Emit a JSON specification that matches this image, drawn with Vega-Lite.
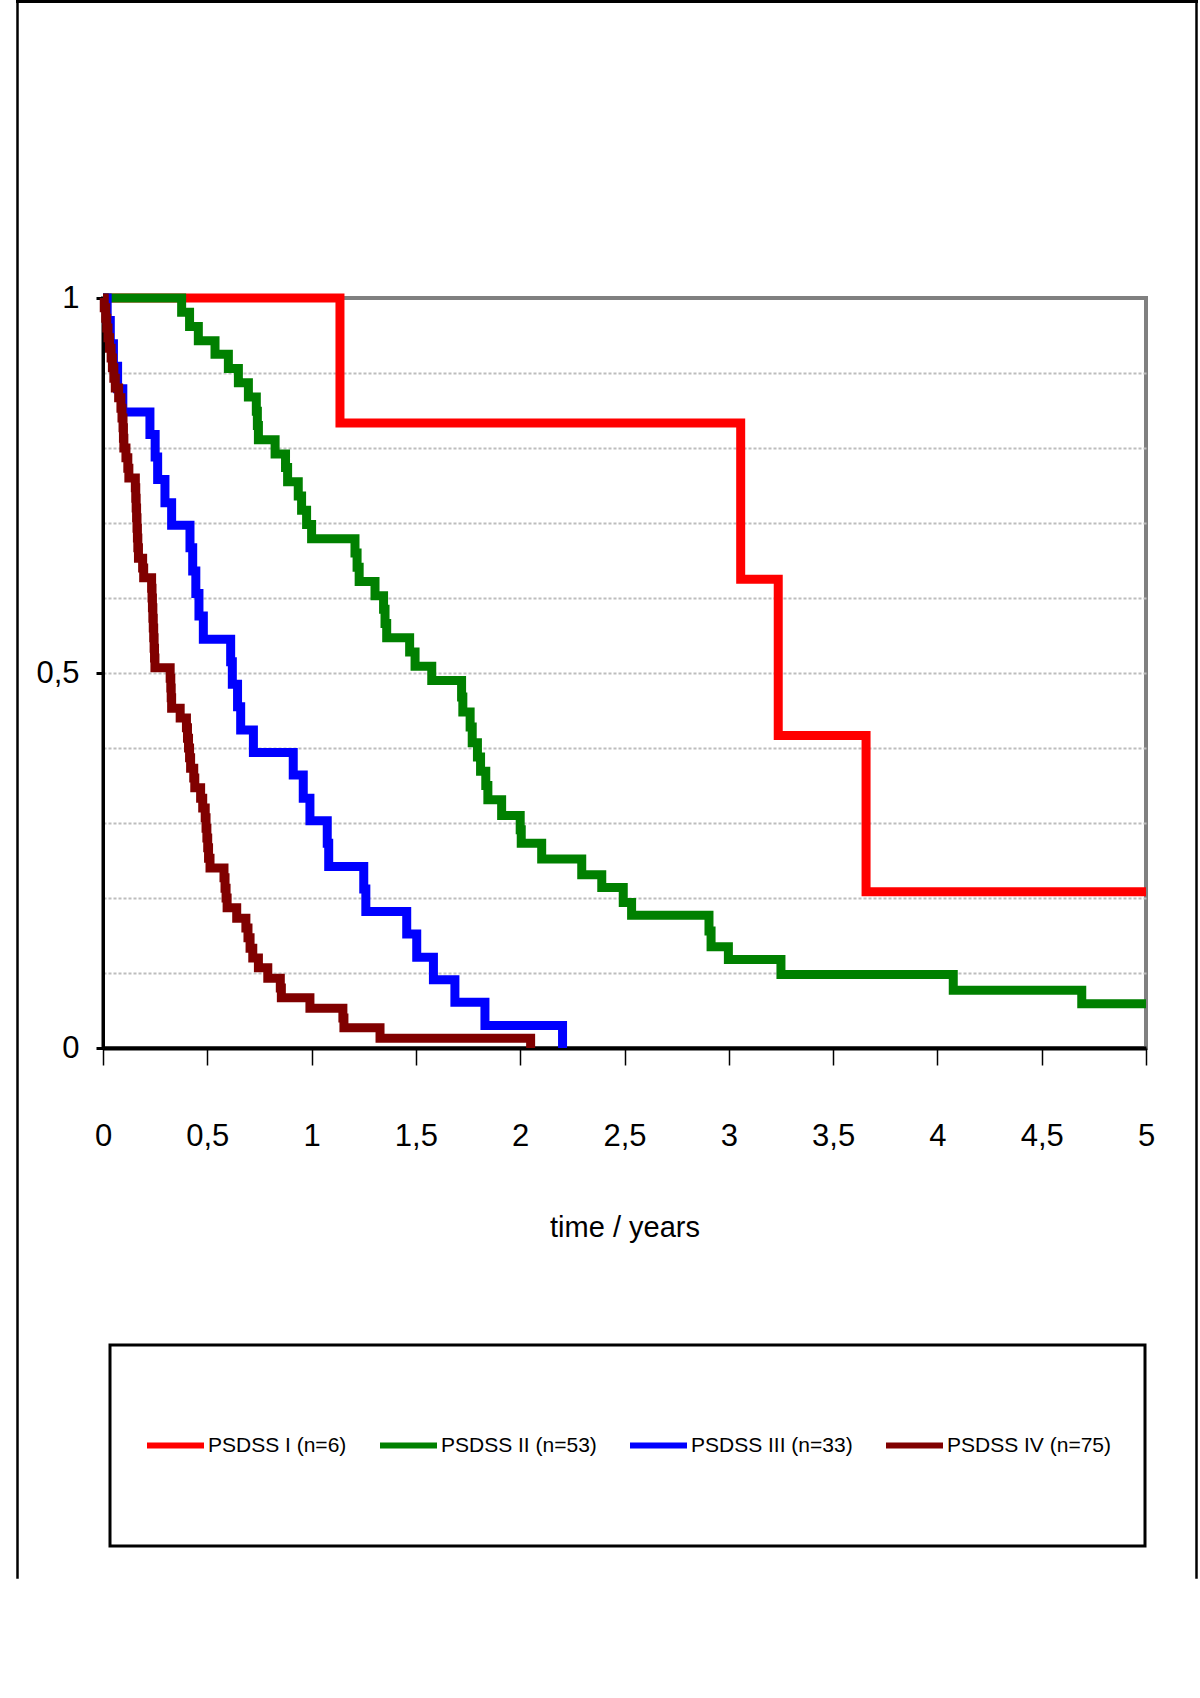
{
  "$schema": "https://vega.github.io/schema/vega-lite/v6.json",
  "autosize": {"type": "pad"},
  "padding": {"left": 16, "top": 0, "right": 2, "bottom": 120},
  "background": "white",
  "config": {
    "view": {"stroke": "#808080", "strokeWidth": 4, "fill": "white"},
    "font": "Liberation Sans",
    "legend": {"strokeWidth": 3}
  },
  "bounds": "flush",
  "spacing": 0,
  "vconcat": [
    {
      "width": 1180,
      "height": 1,
      "data": {"values": []},
      "mark": "point",
      "view": {"stroke": "black", "strokeWidth": 2, "fill": null}
    },
    {
      "bounds": "flush",
      "spacing": 0,
      "hconcat": [
        {
          "width": 1,
          "height": 1576,
          "data": {"values": []},
          "mark": "point",
          "view": {"stroke": "black", "strokeWidth": 1.5, "fill": null}
        },
        {
          "width": 85,
          "height": 1,
          "data": {"values": []},
          "mark": "point",
          "view": {"stroke": null, "fill": null}
        },
        {
          "bounds": "flush",
          "spacing": 295,
          "vconcat": [
            {
              "width": 1043,
              "height": 1,
              "data": {"values": []},
              "mark": "point",
              "view": {"stroke": null, "fill": null}
            },
            {
              "width": 1043,
              "height": 750,
              "data": {
                "values": [
                  {"group": "PSDSS I (n=6)", "t": 0, "s": 1},
                  {"group": "PSDSS I (n=6)", "t": 1.136, "s": 0.8333},
                  {"group": "PSDSS I (n=6)", "t": 3.057, "s": 0.625},
                  {"group": "PSDSS I (n=6)", "t": 3.237, "s": 0.4167},
                  {"group": "PSDSS I (n=6)", "t": 3.658, "s": 0.2083},
                  {"group": "PSDSS I (n=6)", "t": 5, "s": 0.2083},
                  {"group": "PSDSS II (n=53)", "t": 0, "s": 1},
                  {"group": "PSDSS II (n=53)", "t": 0.377, "s": 0.981},
                  {"group": "PSDSS II (n=53)", "t": 0.415, "s": 0.962},
                  {"group": "PSDSS II (n=53)", "t": 0.457, "s": 0.943},
                  {"group": "PSDSS II (n=53)", "t": 0.537, "s": 0.925},
                  {"group": "PSDSS II (n=53)", "t": 0.601, "s": 0.906},
                  {"group": "PSDSS II (n=53)", "t": 0.649, "s": 0.887},
                  {"group": "PSDSS II (n=53)", "t": 0.697, "s": 0.868},
                  {"group": "PSDSS II (n=53)", "t": 0.735, "s": 0.849},
                  {"group": "PSDSS II (n=53)", "t": 0.74, "s": 0.83},
                  {"group": "PSDSS II (n=53)", "t": 0.745, "s": 0.811},
                  {"group": "PSDSS II (n=53)", "t": 0.825, "s": 0.792},
                  {"group": "PSDSS II (n=53)", "t": 0.875, "s": 0.774},
                  {"group": "PSDSS II (n=53)", "t": 0.885, "s": 0.755},
                  {"group": "PSDSS II (n=53)", "t": 0.936, "s": 0.736},
                  {"group": "PSDSS II (n=53)", "t": 0.952, "s": 0.717},
                  {"group": "PSDSS II (n=53)", "t": 0.976, "s": 0.698},
                  {"group": "PSDSS II (n=53)", "t": 1.0, "s": 0.679},
                  {"group": "PSDSS II (n=53)", "t": 1.208, "s": 0.66},
                  {"group": "PSDSS II (n=53)", "t": 1.218, "s": 0.641},
                  {"group": "PSDSS II (n=53)", "t": 1.228, "s": 0.622},
                  {"group": "PSDSS II (n=53)", "t": 1.304, "s": 0.603},
                  {"group": "PSDSS II (n=53)", "t": 1.345, "s": 0.585},
                  {"group": "PSDSS II (n=53)", "t": 1.352, "s": 0.566},
                  {"group": "PSDSS II (n=53)", "t": 1.36, "s": 0.547},
                  {"group": "PSDSS II (n=53)", "t": 1.47, "s": 0.528},
                  {"group": "PSDSS II (n=53)", "t": 1.496, "s": 0.509},
                  {"group": "PSDSS II (n=53)", "t": 1.576, "s": 0.49},
                  {"group": "PSDSS II (n=53)", "t": 1.719, "s": 0.468},
                  {"group": "PSDSS II (n=53)", "t": 1.725, "s": 0.448},
                  {"group": "PSDSS II (n=53)", "t": 1.76, "s": 0.428},
                  {"group": "PSDSS II (n=53)", "t": 1.77, "s": 0.407},
                  {"group": "PSDSS II (n=53)", "t": 1.795, "s": 0.388},
                  {"group": "PSDSS II (n=53)", "t": 1.81, "s": 0.369},
                  {"group": "PSDSS II (n=53)", "t": 1.835, "s": 0.35},
                  {"group": "PSDSS II (n=53)", "t": 1.845, "s": 0.331},
                  {"group": "PSDSS II (n=53)", "t": 1.911, "s": 0.31},
                  {"group": "PSDSS II (n=53)", "t": 2.0, "s": 0.291},
                  {"group": "PSDSS II (n=53)", "t": 2.005, "s": 0.273},
                  {"group": "PSDSS II (n=53)", "t": 2.103, "s": 0.252},
                  {"group": "PSDSS II (n=53)", "t": 2.295, "s": 0.231},
                  {"group": "PSDSS II (n=53)", "t": 2.391, "s": 0.214},
                  {"group": "PSDSS II (n=53)", "t": 2.494, "s": 0.194},
                  {"group": "PSDSS II (n=53)", "t": 2.534, "s": 0.177},
                  {"group": "PSDSS II (n=53)", "t": 2.905, "s": 0.156},
                  {"group": "PSDSS II (n=53)", "t": 2.915, "s": 0.135},
                  {"group": "PSDSS II (n=53)", "t": 2.998, "s": 0.118},
                  {"group": "PSDSS II (n=53)", "t": 3.25, "s": 0.098},
                  {"group": "PSDSS II (n=53)", "t": 4.076, "s": 0.077},
                  {"group": "PSDSS II (n=53)", "t": 4.692, "s": 0.059},
                  {"group": "PSDSS II (n=53)", "t": 5, "s": 0.059},
                  {"group": "PSDSS III (n=33)", "t": 0, "s": 1},
                  {"group": "PSDSS III (n=33)", "t": 0.02, "s": 0.97},
                  {"group": "PSDSS III (n=33)", "t": 0.035, "s": 0.939},
                  {"group": "PSDSS III (n=33)", "t": 0.05, "s": 0.909},
                  {"group": "PSDSS III (n=33)", "t": 0.07, "s": 0.879},
                  {"group": "PSDSS III (n=33)", "t": 0.095, "s": 0.848},
                  {"group": "PSDSS III (n=33)", "t": 0.225, "s": 0.818},
                  {"group": "PSDSS III (n=33)", "t": 0.25, "s": 0.788},
                  {"group": "PSDSS III (n=33)", "t": 0.262, "s": 0.758},
                  {"group": "PSDSS III (n=33)", "t": 0.297, "s": 0.727},
                  {"group": "PSDSS III (n=33)", "t": 0.329, "s": 0.697},
                  {"group": "PSDSS III (n=33)", "t": 0.417, "s": 0.667},
                  {"group": "PSDSS III (n=33)", "t": 0.43, "s": 0.636},
                  {"group": "PSDSS III (n=33)", "t": 0.445, "s": 0.606},
                  {"group": "PSDSS III (n=33)", "t": 0.46, "s": 0.576},
                  {"group": "PSDSS III (n=33)", "t": 0.481, "s": 0.545},
                  {"group": "PSDSS III (n=33)", "t": 0.612, "s": 0.515},
                  {"group": "PSDSS III (n=33)", "t": 0.62, "s": 0.485},
                  {"group": "PSDSS III (n=33)", "t": 0.645, "s": 0.455},
                  {"group": "PSDSS III (n=33)", "t": 0.66, "s": 0.424},
                  {"group": "PSDSS III (n=33)", "t": 0.721, "s": 0.394},
                  {"group": "PSDSS III (n=33)", "t": 0.912, "s": 0.364},
                  {"group": "PSDSS III (n=33)", "t": 0.96, "s": 0.333},
                  {"group": "PSDSS III (n=33)", "t": 0.992, "s": 0.303},
                  {"group": "PSDSS III (n=33)", "t": 1.075, "s": 0.273},
                  {"group": "PSDSS III (n=33)", "t": 1.082, "s": 0.242},
                  {"group": "PSDSS III (n=33)", "t": 1.25, "s": 0.212},
                  {"group": "PSDSS III (n=33)", "t": 1.26, "s": 0.182},
                  {"group": "PSDSS III (n=33)", "t": 1.456, "s": 0.152},
                  {"group": "PSDSS III (n=33)", "t": 1.504, "s": 0.121},
                  {"group": "PSDSS III (n=33)", "t": 1.584, "s": 0.091},
                  {"group": "PSDSS III (n=33)", "t": 1.687, "s": 0.061},
                  {"group": "PSDSS III (n=33)", "t": 1.831, "s": 0.03},
                  {"group": "PSDSS III (n=33)", "t": 2.203, "s": 0},
                  {"group": "PSDSS IV (n=75)", "t": 0, "s": 1},
                  {"group": "PSDSS IV (n=75)", "t": 0.006, "s": 0.987},
                  {"group": "PSDSS IV (n=75)", "t": 0.013, "s": 0.973},
                  {"group": "PSDSS IV (n=75)", "t": 0.018, "s": 0.96},
                  {"group": "PSDSS IV (n=75)", "t": 0.024, "s": 0.947},
                  {"group": "PSDSS IV (n=75)", "t": 0.031, "s": 0.933},
                  {"group": "PSDSS IV (n=75)", "t": 0.039, "s": 0.92},
                  {"group": "PSDSS IV (n=75)", "t": 0.045, "s": 0.907},
                  {"group": "PSDSS IV (n=75)", "t": 0.052, "s": 0.893},
                  {"group": "PSDSS IV (n=75)", "t": 0.059, "s": 0.88},
                  {"group": "PSDSS IV (n=75)", "t": 0.075, "s": 0.867},
                  {"group": "PSDSS IV (n=75)", "t": 0.086, "s": 0.853},
                  {"group": "PSDSS IV (n=75)", "t": 0.091, "s": 0.84},
                  {"group": "PSDSS IV (n=75)", "t": 0.096, "s": 0.827},
                  {"group": "PSDSS IV (n=75)", "t": 0.098, "s": 0.813},
                  {"group": "PSDSS IV (n=75)", "t": 0.1, "s": 0.8},
                  {"group": "PSDSS IV (n=75)", "t": 0.11, "s": 0.787},
                  {"group": "PSDSS IV (n=75)", "t": 0.119, "s": 0.773},
                  {"group": "PSDSS IV (n=75)", "t": 0.124, "s": 0.76},
                  {"group": "PSDSS IV (n=75)", "t": 0.155, "s": 0.747},
                  {"group": "PSDSS IV (n=75)", "t": 0.157, "s": 0.733},
                  {"group": "PSDSS IV (n=75)", "t": 0.159, "s": 0.72},
                  {"group": "PSDSS IV (n=75)", "t": 0.161, "s": 0.707},
                  {"group": "PSDSS IV (n=75)", "t": 0.163, "s": 0.693},
                  {"group": "PSDSS IV (n=75)", "t": 0.165, "s": 0.68},
                  {"group": "PSDSS IV (n=75)", "t": 0.167, "s": 0.667},
                  {"group": "PSDSS IV (n=75)", "t": 0.17, "s": 0.653},
                  {"group": "PSDSS IV (n=75)", "t": 0.19, "s": 0.64},
                  {"group": "PSDSS IV (n=75)", "t": 0.195, "s": 0.627},
                  {"group": "PSDSS IV (n=75)", "t": 0.233, "s": 0.613},
                  {"group": "PSDSS IV (n=75)", "t": 0.235, "s": 0.6},
                  {"group": "PSDSS IV (n=75)", "t": 0.237, "s": 0.587},
                  {"group": "PSDSS IV (n=75)", "t": 0.239, "s": 0.573},
                  {"group": "PSDSS IV (n=75)", "t": 0.241, "s": 0.56},
                  {"group": "PSDSS IV (n=75)", "t": 0.243, "s": 0.547},
                  {"group": "PSDSS IV (n=75)", "t": 0.245, "s": 0.533},
                  {"group": "PSDSS IV (n=75)", "t": 0.247, "s": 0.52},
                  {"group": "PSDSS IV (n=75)", "t": 0.249, "s": 0.507},
                  {"group": "PSDSS IV (n=75)", "t": 0.322, "s": 0.493},
                  {"group": "PSDSS IV (n=75)", "t": 0.325, "s": 0.48},
                  {"group": "PSDSS IV (n=75)", "t": 0.327, "s": 0.467},
                  {"group": "PSDSS IV (n=75)", "t": 0.329, "s": 0.453},
                  {"group": "PSDSS IV (n=75)", "t": 0.37, "s": 0.44},
                  {"group": "PSDSS IV (n=75)", "t": 0.4, "s": 0.427},
                  {"group": "PSDSS IV (n=75)", "t": 0.405, "s": 0.413},
                  {"group": "PSDSS IV (n=75)", "t": 0.41, "s": 0.4},
                  {"group": "PSDSS IV (n=75)", "t": 0.415, "s": 0.387},
                  {"group": "PSDSS IV (n=75)", "t": 0.42, "s": 0.373},
                  {"group": "PSDSS IV (n=75)", "t": 0.435, "s": 0.36},
                  {"group": "PSDSS IV (n=75)", "t": 0.44, "s": 0.347},
                  {"group": "PSDSS IV (n=75)", "t": 0.468, "s": 0.333},
                  {"group": "PSDSS IV (n=75)", "t": 0.478, "s": 0.32},
                  {"group": "PSDSS IV (n=75)", "t": 0.49, "s": 0.307},
                  {"group": "PSDSS IV (n=75)", "t": 0.494, "s": 0.293},
                  {"group": "PSDSS IV (n=75)", "t": 0.498, "s": 0.28},
                  {"group": "PSDSS IV (n=75)", "t": 0.502, "s": 0.267},
                  {"group": "PSDSS IV (n=75)", "t": 0.506, "s": 0.253},
                  {"group": "PSDSS IV (n=75)", "t": 0.513, "s": 0.24},
                  {"group": "PSDSS IV (n=75)", "t": 0.58, "s": 0.227},
                  {"group": "PSDSS IV (n=75)", "t": 0.585, "s": 0.213},
                  {"group": "PSDSS IV (n=75)", "t": 0.59, "s": 0.2},
                  {"group": "PSDSS IV (n=75)", "t": 0.595, "s": 0.187},
                  {"group": "PSDSS IV (n=75)", "t": 0.641, "s": 0.173},
                  {"group": "PSDSS IV (n=75)", "t": 0.685, "s": 0.16},
                  {"group": "PSDSS IV (n=75)", "t": 0.695, "s": 0.147},
                  {"group": "PSDSS IV (n=75)", "t": 0.705, "s": 0.133},
                  {"group": "PSDSS IV (n=75)", "t": 0.718, "s": 0.12},
                  {"group": "PSDSS IV (n=75)", "t": 0.745, "s": 0.107},
                  {"group": "PSDSS IV (n=75)", "t": 0.79, "s": 0.093},
                  {"group": "PSDSS IV (n=75)", "t": 0.85, "s": 0.08},
                  {"group": "PSDSS IV (n=75)", "t": 0.855, "s": 0.067},
                  {"group": "PSDSS IV (n=75)", "t": 0.992, "s": 0.053},
                  {"group": "PSDSS IV (n=75)", "t": 1.15, "s": 0.04},
                  {"group": "PSDSS IV (n=75)", "t": 1.155, "s": 0.027},
                  {"group": "PSDSS IV (n=75)", "t": 1.328, "s": 0.013},
                  {"group": "PSDSS IV (n=75)", "t": 2.05, "s": 0}
                ]
              },
              "mark": {"type": "line", "interpolate": "step-after", "strokeWidth": 9},
              "encoding": {
                "x": {
                  "field": "t",
                  "type": "quantitative",
                  "scale": {"domain": [0, 5], "nice": false, "zero": false},
                  "axis": {
                    "values": [0, 0.5, 1, 1.5, 2, 2.5, 3, 3.5, 4, 4.5, 5],
                    "labelExpr": "replace(format(datum.value, '~g'), '.', ',')",
                    "grid": false,
                    "domainColor": "black",
                    "domainWidth": 4,
                    "tickColor": "black",
                    "tickWidth": 1.5,
                    "tickSize": 17,
                    "labelFontSize": 31,
                    "labelColor": "black",
                    "labelPadding": 56,
                    "labelFlush": false,
                    "labelOverlap": false,
                    "title": "time / years",
                    "titleFontSize": 29,
                    "titleFontWeight": "normal",
                    "titleColor": "black",
                    "titlePadding": 62
                  }
                },
                "y": {
                  "field": "s",
                  "type": "quantitative",
                  "scale": {"domain": [0, 1], "nice": false},
                  "axis": {
                    "values": [0, 0.1, 0.2, 0.3, 0.4, 0.5, 0.6, 0.7, 0.8, 0.9, 1],
                    "labelExpr": "datum.value == 0 ? '0' : (datum.value == 0.5 ? '0,5' : (datum.value == 1 ? '1' : ''))",
                    "grid": true,
                    "gridColor": "#bdbdbd",
                    "gridDash": [3, 2],
                    "gridWidth": 2,
                    "gridOpacity": {"condition": {"test": "datum.value < 0.05 || datum.value > 0.95", "value": 0}, "value": 1},
                    "tickOpacity": {"condition": {"test": "datum.value == 0 || datum.value == 0.5 || datum.value == 1", "value": 1}, "value": 0},
                    "tickColor": "black",
                    "tickWidth": 3,
                    "tickSize": 7,
                    "domainColor": "black",
                    "domainWidth": 3,
                    "labelFontSize": 31,
                    "labelColor": "black",
                    "labelPadding": 17,
                    "labelFlush": false,
                    "labelOverlap": false,
                    "title": null
                  }
                },
                "color": {
                  "field": "group",
                  "type": "nominal",
                  "scale": {
                    "domain": ["PSDSS I (n=6)", "PSDSS II (n=53)", "PSDSS III (n=33)", "PSDSS IV (n=75)"],
                    "range": ["#ff0000", "#008000", "#0000ff", "#800000"]
                  },
                  "legend": {
                    "orient": "none",
                    "legendX": 93,
                    "legendY": 1344,
                    "direction": "horizontal",
                    "columns": 4,
                    "title": null,
                    "symbolType": "stroke",
                    "symbolSize": 3249,
                    "symbolStrokeWidth": 6,
                    "labelFontSize": 21,
                    "labelColor": "black",
                    "labelOffset": 1,
                    "labelLimit": 400,
                    "columnPadding": 30,
                    "padding": 34,
                    "clipHeight": 133,
                    "strokeColor": "black",
                    "fillColor": "white"
                  }
                }
              }
            }
          ]
        },
        {
          "width": 1093,
          "height": 1,
          "data": {"values": []},
          "mark": "point",
          "view": {"stroke": null, "fill": null}
        },
        {
          "width": 1,
          "height": 1576,
          "data": {"values": []},
          "mark": "point",
          "view": {"stroke": "black", "strokeWidth": 1.5, "fill": null}
        }
      ]
    }
  ]
}
